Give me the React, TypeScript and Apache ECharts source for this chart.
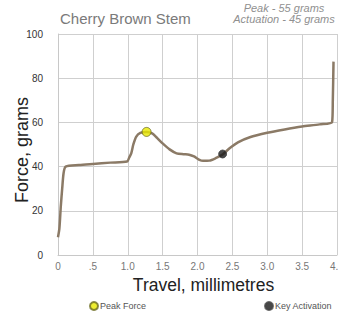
import React, { useEffect, useRef } from "react";
import * as echarts from "echarts";

const title = "Cherry Brown Stem";
const notes = ["Peak - 55 grams", "Actuation - 45 grams"];
const travel = [0.0, 0.02, 0.04, 0.06, 0.08, 0.11, 0.3, 0.5, 0.75, 0.99, 1.02, 1.05, 1.08, 1.12, 1.18, 1.27, 1.35, 1.42, 1.5, 1.6, 1.7, 1.8, 1.88, 1.95, 2.02, 2.08, 2.17, 2.26, 2.36, 2.46, 2.58, 2.75, 3.0, 3.25, 3.5, 3.75, 3.93, 3.94, 3.95];
const force = [8, 12, 22, 30, 37, 40, 40.7, 41.2, 41.8, 42.3, 44, 46, 50, 53.5, 55.3, 55.7, 55, 53, 50.5, 47.8, 46, 45.6, 45.4, 44.6, 43.2, 42.6, 42.7, 43.8, 45.5, 48.3, 51, 53.3, 55.3, 56.8, 58.1, 59.1, 60.2, 70, 87.5];
const peakPoint = [1.27, 55.7];
const activationPoint = [2.36, 45.7];

export default function App() {
  const ref = useRef<HTMLDivElement>(null);
  useEffect(() => {
    if (!ref.current) return;
    const chart = echarts.init(ref.current, null, { renderer: "svg" });
    const lineData = travel.map((x, i) => [x, force[i]]);
    chart.setOption({
      animation: false,
      backgroundColor: "#ffffff",
      textStyle: { fontFamily: "Liberation Sans, Arial, sans-serif" },
      title: {
        text: title,
        left: 55,
        top: 6,
        textStyle: { fontSize: 15, fontWeight: "normal", color: "#7a7a7a" },
      },
      graphic: [
        {
          type: "text",
          x: 284,
          y: 2,
          style: {
            text: notes.join("\n"),
            fill: "#909090",
            font: "italic 11px 'Liberation Sans', Arial, sans-serif",
            textAlign: "center",
            lineHeight: 11,
          },
        },
      ],
      legend: [
        {
          data: ["Peak Force"],
          left: 84,
          top: 296,
          icon: "circle",
          itemWidth: 8,
          itemHeight: 8,
          textStyle: { fontSize: 9, color: "#555", padding: [0, 0, 0, -3] },
        },
        {
          data: ["Key Activation"],
          left: 259,
          top: 296,
          icon: "circle",
          itemWidth: 8,
          itemHeight: 8,
          textStyle: { fontSize: 9, color: "#555", padding: [0, 0, 0, -3] },
        },
      ],
      grid: { left: 58, right: 1, top: 34, bottom: 57, containLabel: false, outerBoundsMode: "none" },
      xAxis: {
        type: "value",
        min: 0,
        max: 4,
        interval: 0.5,
        name: "Travel, millimetres",
        nameLocation: "middle",
        nameGap: 21,
        nameMoveOverlap: false,
        nameTextStyle: { fontSize: 17.5, color: "#222", padding: [0, 0, 0, 12] },
        axisLine: { show: true, lineStyle: { color: "#c8c8c8" } },
        axisTick: { show: false },
        splitLine: { show: true, lineStyle: { color: "#cfcfcf", width: 1 } },
        axisLabel: {
          fontSize: 10,
          color: "#777",
          margin: 6,
          formatter: (v: number) => (v === 0 ? "0" : v === 0.5 ? ".5" : v.toFixed(1)),
        },
      },
      yAxis: {
        type: "value",
        min: 0,
        max: 100,
        interval: 20,
        name: "Force, grams",
        nameLocation: "middle",
        nameGap: 27,
        nameMoveOverlap: false,
        nameTextStyle: { fontSize: 18, color: "#222", padding: [0, 11, 0, 0] },
        axisLine: { show: true, lineStyle: { color: "#c8c8c8" } },
        axisTick: { show: false },
        splitLine: { show: true, lineStyle: { color: "#cfcfcf", width: 1 } },
        axisLabel: { fontSize: 10, color: "#333", margin: 15 },
      },
      series: [
        {
          name: "Force",
          type: "line",
          data: lineData,
          showSymbol: false,
          smooth: 0.25,
          lineStyle: { color: "#8b7a66", width: 2.5 },
          z: 2,
        },
        {
          name: "Peak Force",
          type: "scatter",
          data: [peakPoint],
          symbol: "circle",
          symbolSize: 9,
          itemStyle: { color: "#e8e800", borderColor: "#6b6b20", borderWidth: 1 },
          z: 3,
        },
        {
          name: "Key Activation",
          type: "scatter",
          data: [activationPoint],
          symbol: "circle",
          symbolSize: 8,
          itemStyle: { color: "#1a1a1a", borderColor: "#444", borderWidth: 1 },
          z: 3,
        },
      ],
    });
    return () => chart.dispose();
  }, []);
  return (
    <div
      ref={ref}
      style={{ position: "fixed", left: 0, top: 0, width: 338, height: 312 }}
    />
  );
}
